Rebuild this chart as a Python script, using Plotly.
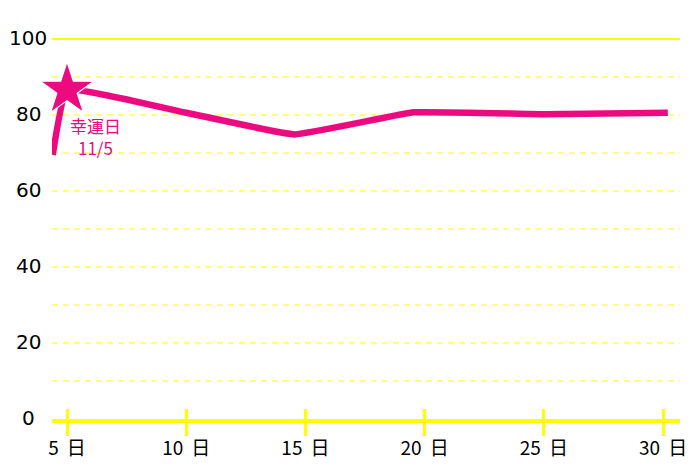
import plotly.graph_objects as go

# ---- data ----
days = [4.4, 5, 10, 14.55, 19.55, 25, 30.2]
scores = [69.5, 86.6, 80.6, 74.9, 80.7, 80.2, 80.6]
lucky_day = [5]
lucky_score = [86.6]
lucky_label = "幸運日<br>11/5"
x_ticks = [5, 10, 15, 20, 25, 30]
x_tick_labels = ["5 \u2009日", "10 \u2009日", "15 \u2009日", "20 \u2009日", "25 \u2009日", "30 \u2009日"]
y_ticks = [0, 20, 40, 60, 80, 100]
y_grid = [10, 20, 30, 40, 50, 60, 70, 80, 90]
y_top_line = [100]

PINK = "#EC0A80"
YELLOW = "#FFFF00"
LIGHT_YELLOW = "#FFFF80"
FONT = "Noto Sans CJK JP"
NUM_FONT = "DejaVu Sans, Noto Sans CJK JP"
X_RANGE = [4.37, 30.71]
Y_RANGE = [0, 105]

fig = go.Figure()
fig.add_trace(go.Scatter(
    x=days, y=scores, mode="lines",
    line=dict(color=PINK, width=6.5, shape="spline", smoothing=0.3),
    hoverinfo="skip", cliponaxis=False,
))
fig.add_trace(go.Scatter(
    x=lucky_day, y=lucky_score, mode="markers",
    marker=dict(symbol="star", size=40, color=PINK, line=dict(color="white", width=1.2)),
    hoverinfo="skip", cliponaxis=False,
))
# dummy trace for overlay axes
fig.add_trace(go.Scatter(x=[None], y=[None], xaxis="x2", yaxis="y2", showlegend=False, hoverinfo="skip"))

fig.add_annotation(
    x=lucky_day[0], y=lucky_score[0], text=lucky_label, showarrow=False,
    xanchor="center", yanchor="middle", xshift=28, yshift=-47, align="center",
    font=dict(family=FONT, size=17, color=PINK),
)

for v in y_ticks:
    fig.add_annotation(
        x=-0.0382, y=v, xref="paper", yref="y", text=str(v), showarrow=False,
        xanchor="center", yanchor="middle", yshift=1,
        font=dict(family=NUM_FONT, size=20, color="black"),
    )

fig.update_layout(
    width=692, height=459,
    margin=dict(l=44, r=20, t=12, b=48),
    paper_bgcolor="white", plot_bgcolor="white",
    showlegend=False,
    xaxis=dict(
        range=X_RANGE, tickvals=x_ticks, ticktext=x_tick_labels,
        showgrid=False, zeroline=False, automargin=False,
        showline=True, linecolor=YELLOW, linewidth=4,
        ticks="outside", ticklen=13, tickwidth=3, tickcolor=YELLOW,
        tickfont=dict(family=FONT, size=19, color="black"),
        ticklabelstandoff=-4,
    ),
    xaxis2=dict(
        range=X_RANGE, overlaying="x", anchor="y", side="bottom",
        tickvals=x_ticks, showticklabels=False, automargin=False,
        showgrid=False, zeroline=False, showline=False,
        ticks="inside", ticklen=10, tickwidth=3, tickcolor=YELLOW,
    ),
    yaxis=dict(
        range=Y_RANGE, tickvals=y_grid, showticklabels=False, automargin=False,
        showgrid=True, gridcolor=LIGHT_YELLOW, gridwidth=1.5, griddash="6px,5px",
        zeroline=False, showline=False, ticks="",
    ),
    yaxis2=dict(
        range=Y_RANGE, overlaying="y", anchor="x", tickvals=y_top_line,
        showticklabels=False, automargin=False,
        showgrid=True, gridcolor=YELLOW, gridwidth=2,
        zeroline=False, showline=False, ticks="",
    ),
)

fig.write_html("out.html")
